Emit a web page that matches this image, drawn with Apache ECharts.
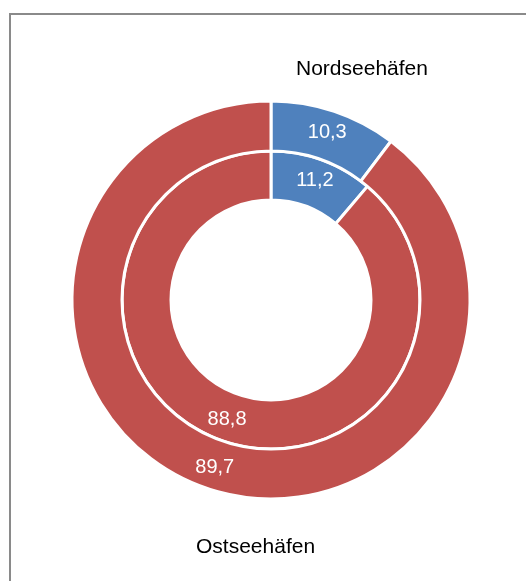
<!DOCTYPE html>
<html>
<head>
<meta charset="utf-8">
<script src="https://cdn.jsdelivr.net/npm/echarts@6/dist/echarts.min.js"></script>
<style>
  html, body { margin: 0; padding: 0; background: #fff; }
  #chart { width: 526px; height: 581px; }
</style>
</head>
<body>
<div id="chart"></div>
<script>
const categories = ['Nordseehäfen', 'Ostseehäfen']
const innerValues = [11.2, 88.8]
const outerValues = [10.3, 89.7]
const colors = ['#4F81BD', '#C0504D']

const FONT = 'Liberation Sans, Arial, sans-serif'

const chart = echarts.init(document.getElementById('chart'))

const toData = values => values.map((v, i) => ({
    name: categories[i],
    value: v,
    itemStyle: { color: colors[i] }
}))

const ring = (radius, values) => ({
    type: 'pie',
    center: [271, 300],
    radius: radius,
    startAngle: 90,
    clockwise: true,
    silent: true,
    animation: false,
    itemStyle: { borderColor: '#fff', borderWidth: 3 },
    label: {
        position: 'inside',
        color: '#fff',
        fontSize: 20,
        fontFamily: FONT,
        formatter: p => String(p.value).replace('.', ',')
    },
    labelLine: { show: false },
    data: toData(values)
})

const option = {
    backgroundColor: '#fff',
    graphic: [
        {
            type: 'rect',
            shape: { x: 10, y: 14, width: 600, height: 700 },
            style: { fill: 'none', stroke: '#8a8a8a', lineWidth: 2 }
        },
        {
            type: 'text',
            x: 296, y: 69,
            style: { text: categories[0], fontSize: 21, fill: '#000', fontFamily: FONT, verticalAlign: 'middle' }
        },
        {
            type: 'text',
            x: 196, y: 547,
            style: { text: categories[1], fontSize: 21, fill: '#000', fontFamily: FONT, verticalAlign: 'middle' }
        }
    ],
    series: [
        ring([100, 149], innerValues),
        ring([149, 199], outerValues)
    ]
}

chart.setOption(option)
</script>
</body>
</html>
